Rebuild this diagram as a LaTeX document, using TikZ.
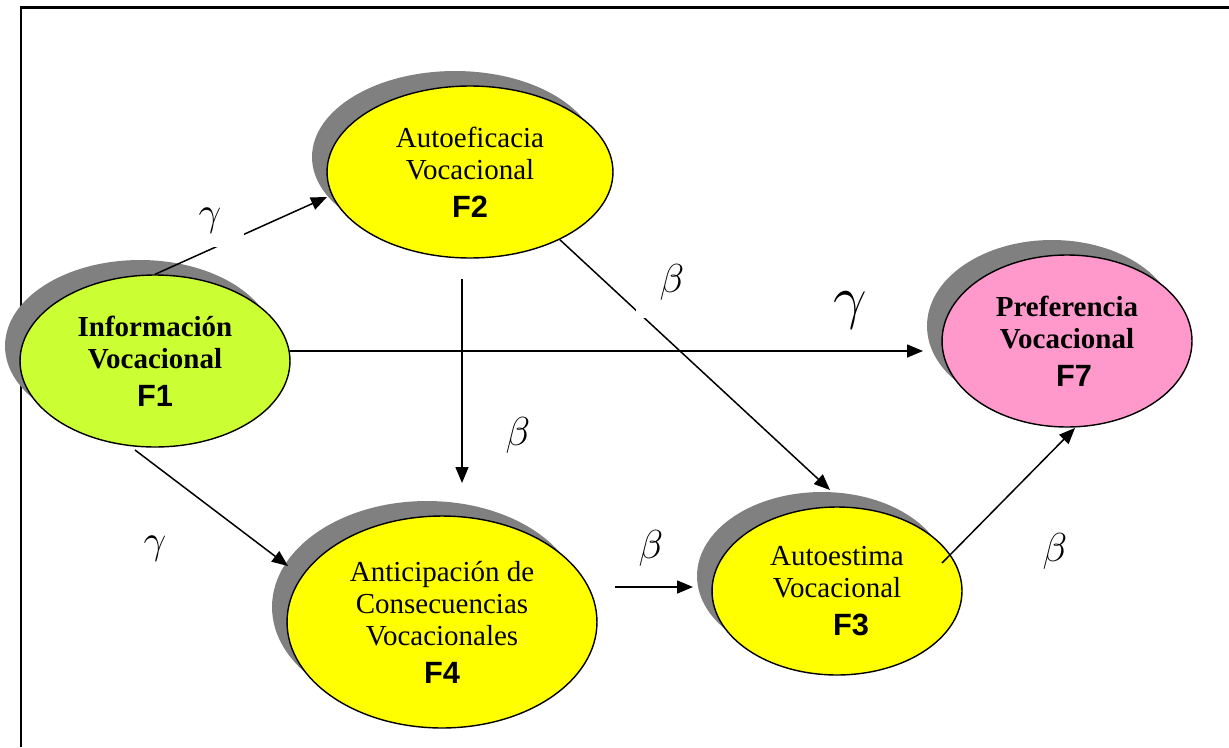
\RequirePackage{fix-cm}
\documentclass[tikz,border=0pt]{standalone}
\usepackage{fontspec}
\setmainfont{Liberation Serif}
\setsansfont{Liberation Sans}
\usetikzlibrary{shapes.geometric,shadows,arrows.meta}
\definecolor{shadowgray}{HTML}{808080}
\definecolor{fgreen}{HTML}{CCFF33}
\definecolor{fyellow}{HTML}{FFFF00}
\definecolor{fpink}{HTML}{FF99CC}
\newcommand\flab[1]{{\fontsize{17.5}{18.2}\selectfont\sffamily\bfseries #1}}
\begin{document}
\begin{tikzpicture}[x=0.02cm,y=-0.02cm,
  factor/.style={ellipse, draw=black, line width=0.8pt, inner sep=0pt, align=center,
    font=\fontsize{16.5}{18.2}\selectfont,
    drop shadow={shadow xshift=-0.3cm, shadow yshift=0.3cm, fill=shadowgray, opacity=1}},
  boldfactor/.style={factor, font=\fontsize{16.5}{18.2}\selectfont\bfseries},
  arr/.style={line width=0.85pt, -{Triangle[length=0.32cm,width=0.26cm]}},
  coef/.style={inner sep=0pt, font=\fontsize{23}{25}\selectfont},
  bigcoef/.style={inner sep=0pt, font=\fontsize{34}{36}\selectfont},
  frame/.style={line width=1.2pt}
]
\useasboundingbox (0,0) rectangle (1229,747);
\fill[white] (0,0) rectangle (1229,747);
\draw[frame] (21,747) -- (21,7.5) -- (1229,7.5);

% factors
\node[boldfactor, fill=fgreen, minimum width=5.4cm, minimum height=3.44cm] (F1) at (155,361)
  {Información\\Vocacional\\[3.5pt]\flab{F1}};
\node[factor, fill=fyellow, minimum width=5.72cm, minimum height=3.44cm] (F2) at (470,172)
  {Autoeficacia\\Vocacional\\[3.5pt]\flab{F2}};
\node[factor, fill=fyellow, minimum width=5.0cm, minimum height=3.36cm] (F3) at (837,591)
  {Autoestima\\Vocacional\\[3.5pt]\hspace*{16pt}\flab{F3}};
\node[factor, fill=fyellow, minimum width=6.2cm, minimum height=4.24cm] (F4) at (442,622)
  {Anticipación de\\Consecuencias\\Vocacionales\\[3.5pt]\flab{F4}};
\node[boldfactor, fill=fpink, minimum width=5.0cm, minimum height=3.44cm] (F7) at (1067,341)
  {Preferencia\\Vocacional\\[3.5pt]\hspace*{8pt}\flab{F7}};

% free ends of connectors
\coordinate (t12) at (327,197);
\coordinate (s14) at (135,450);
\coordinate (t14) at (288,566);
\coordinate (s17) at (290,351);
\coordinate (t17) at (923,351);
\coordinate (s24) at (462,279);
\coordinate (t24) at (462,483);
\coordinate (t23) at (830,490);
\coordinate (s43) at (615,587);
\coordinate (t43) at (693,587);
\coordinate (s37) at (942,563);
\coordinate (t37) at (1075,428);

% connectors
\draw[arr] (F1.north) -- (t12);
\draw[arr] (s14) -- (t14);
\draw[arr] (s17) -- (t17);
\draw[arr] (s24) -- (t24);
\draw[arr] (F2.-37.7) -- (t23);
\draw[arr] (s43) -- (t43);
\draw[arr] (s37) -- (t37);

% coefficient labels
\node[coef, fill=white, minimum width=1.36cm, minimum height=1.04cm] (g12) at (210,221) {$\gamma$};
\node[coef, fill=white, minimum width=1.44cm, minimum height=1.44cm] (b23) at (672,282) {$\beta$};
\node[coef] (g14) at (155,549) {$\gamma$};
\node[bigcoef] (g17) at (850,310) {$\gamma$};
\node[coef] (b24) at (518,435) {$\beta$};
\node[coef] (b43) at (651,548) {$\beta$};
\node[coef] (b37) at (1055,551) {$\beta$};
\end{tikzpicture}
\end{document}
